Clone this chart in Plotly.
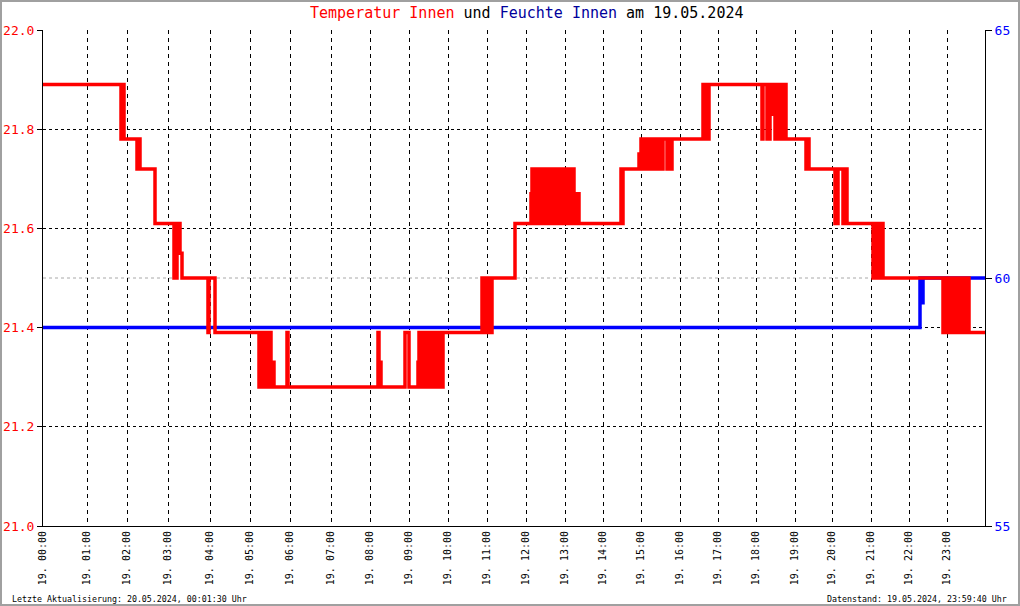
import plotly.graph_objects as go

# ---------------- data ----------------
# x axis is the sample index of the day's readings (ticks at the first sample of each hour)
hour_index = [0, 44, 84, 125, 167, 207, 247, 288, 327, 366, 405, 444,
              483, 522, 560, 598, 637, 675, 713, 752, 789, 828, 866, 904]
hour_labels = ["19. %02d:00" % h for h in range(24)]
n_samples = 942

# temperature readings (sample index, degC) - step changes
temp_steps = [
    (0, 21.89),
    (78, 21.78), (79, 21.89), (81, 21.78),
    (94, 21.72), (95, 21.78), (97, 21.72),
    (112, 21.61),
    (131, 21.50), (132, 21.61), (133, 21.50), (134, 21.61), (137, 21.55), (139, 21.50),
    (165, 21.39), (166, 21.50), (172, 21.39),
    (216, 21.28), (217, 21.39), (218, 21.28), (219, 21.39), (220, 21.28), (221, 21.39),
    (222, 21.28), (223, 21.39), (224, 21.28), (225, 21.39), (226, 21.28), (227, 21.39),
    (228, 21.28), (229, 21.33), (231, 21.28),
    (244, 21.39), (245, 21.28),
    (335, 21.39), (336, 21.33), (338, 21.28),
    (362, 21.39), (366, 21.28),
    (375, 21.33), (376, 21.39), (377, 21.28), (378, 21.39), (379, 21.28), (380, 21.39),
    (381, 21.28), (382, 21.39), (383, 21.28), (384, 21.39), (385, 21.28), (386, 21.39),
    (387, 21.28), (388, 21.39), (389, 21.28), (390, 21.39), (391, 21.28), (392, 21.39),
    (393, 21.33), (394, 21.39), (395, 21.28), (396, 21.39), (397, 21.33), (398, 21.39),
    (399, 21.28), (400, 21.39),
    (439, 21.50), (440, 21.39), (441, 21.50), (442, 21.39), (443, 21.50), (444, 21.39),
    (447, 21.50), (448, 21.39), (449, 21.50),
    (472, 21.61),
    (488, 21.67), (489, 21.72), (490, 21.61), (491, 21.72), (492, 21.61), (493, 21.72),
    (494, 21.61), (495, 21.72), (496, 21.61), (497, 21.72), (498, 21.61), (499, 21.72),
    (500, 21.61), (501, 21.72), (502, 21.61), (503, 21.72), (504, 21.61), (505, 21.72),
    (506, 21.61), (507, 21.72), (508, 21.61), (509, 21.72), (510, 21.61), (511, 21.72),
    (512, 21.61),
    (515, 21.72), (516, 21.61), (517, 21.72), (518, 21.61), (519, 21.72), (520, 21.61),
    (521, 21.72), (522, 21.61), (523, 21.72), (524, 21.67), (525, 21.61), (526, 21.72),
    (527, 21.61), (528, 21.72), (529, 21.61), (530, 21.72), (531, 21.67), (532, 21.61),
    (533, 21.67), (534, 21.61), (535, 21.67), (536, 21.61),
    (578, 21.72), (579, 21.61), (580, 21.72),
    (596, 21.75), (597, 21.72), (598, 21.78), (599, 21.72), (600, 21.78), (601, 21.72),
    (602, 21.78), (603, 21.72), (604, 21.78), (605, 21.72), (606, 21.78), (607, 21.72),
    (608, 21.78), (609, 21.72), (610, 21.78), (611, 21.72), (612, 21.78), (613, 21.75),
    (614, 21.78), (615, 21.72), (616, 21.78), (617, 21.72), (618, 21.78), (619, 21.72),
    (620, 21.78), (624, 21.72), (625, 21.78), (626, 21.72), (627, 21.78), (628, 21.72),
    (629, 21.78),
    (660, 21.89), (661, 21.78), (662, 21.89), (663, 21.78), (664, 21.89), (665, 21.78),
    (666, 21.89),
    (719, 21.78), (720, 21.89), (724, 21.78), (725, 21.89), (726, 21.78), (727, 21.89),
    (730, 21.83), (731, 21.89), (732, 21.78), (733, 21.89), (735, 21.78), (736, 21.89),
    (739, 21.78), (740, 21.89), (741, 21.78), (742, 21.89), (743, 21.78),
    (763, 21.72), (764, 21.78), (766, 21.72),
    (792, 21.61), (793, 21.72), (794, 21.61), (795, 21.72), (800, 21.61), (801, 21.72),
    (802, 21.61), (803, 21.72), (804, 21.61),
    (830, 21.50), (831, 21.61), (832, 21.50), (833, 21.61), (834, 21.50), (835, 21.61),
    (836, 21.50), (837, 21.61), (838, 21.50), (839, 21.61), (840, 21.50),
    (900, 21.39), (901, 21.50), (902, 21.39), (903, 21.50), (904, 21.39), (905, 21.50),
    (906, 21.39), (907, 21.50), (908, 21.39), (909, 21.50), (910, 21.39), (911, 21.50),
    (912, 21.39), (913, 21.50), (914, 21.39), (915, 21.50), (916, 21.39), (917, 21.50),
    (918, 21.39), (919, 21.50), (920, 21.39), (921, 21.50), (922, 21.39), (923, 21.50),
    (924, 21.39), (925, 21.50), (926, 21.39), (927, 21.39),
    (942, 21.39),
]
temp_idx = [p[0] for p in temp_steps]
temp_val = [p[1] for p in temp_steps]

# humidity readings (sample index, %)
hum_idx = [0, 877, 878, 880, 942]
hum_val = [59.0, 60.0, 59.5, 60.0, 60.0]

temp_ticks = [21.0, 21.2, 21.4, 21.6, 21.8, 22.0]
hum_ticks = [55, 60, 65]

title_html = ("<span style='color:#ff0000'>Temperatur Innen</span> und "
              "<span style='color:#00009c'>Feuchte Innen</span> am 19.05.2024")
footer_left = "Letzte Aktualisierung: 20.05.2024, 00:01:30 Uhr"
footer_right = "Datenstand: 19.05.2024, 23:59:40 Uhr"

MONO = "DejaVu Sans Mono"

# ---------------- figure ----------------
fig = go.Figure()
fig.add_trace(go.Scatter(x=hum_idx, y=hum_val, yaxis="y", mode="lines",
                         line=dict(color="#0000ff", width=3.5, shape="hv"),
                         hoverinfo="skip", showlegend=False))
fig.add_trace(go.Scatter(x=temp_idx, y=temp_val, yaxis="y2", mode="lines",
                         line=dict(color="#ff0000", width=3.5, shape="hv"),
                         hoverinfo="skip", showlegend=False))

fig.update_layout(
    template="none",
    width=1020, height=606, autosize=False,
    margin=dict(l=43, r=35, t=30, b=80, pad=0),
    paper_bgcolor="white", plot_bgcolor="white",
    font=dict(family=MONO, color="black"),
    showlegend=False,
    xaxis=dict(range=[0, n_samples], tickmode="array", tickvals=hour_index,
               ticktext=hour_labels, tickangle=-90, automargin=False,
               tickfont=dict(family=MONO, size=10, color="black"),
               showgrid=True, gridcolor="black", gridwidth=1, griddash="4px,4px",
               showline=True, linecolor="black", linewidth=1,
               ticks="", zeroline=False, fixedrange=True),
    yaxis=dict(range=[55, 65], side="right", tickmode="array", tickvals=hum_ticks,
               automargin=False,
               tickfont=dict(family=MONO, size=13, color="#0000ff"),
               showgrid=False, showline=True, linecolor="black", linewidth=1,
               ticks="outside", ticklen=6, tickcolor="black",
               zeroline=False, fixedrange=True),
    yaxis2=dict(range=[21.0, 22.0], side="left", overlaying="y", tickmode="array",
                tickvals=temp_ticks, tickformat=".1f", automargin=False,
                tickfont=dict(family=MONO, size=13, color="#ff0000"),
                showgrid=True, gridcolor="black", gridwidth=1, griddash="3px,3px",
                showline=True, linecolor="black", linewidth=1,
                ticks="outside", ticklen=5, tickcolor="black",
                zeroline=False, fixedrange=True),
)

# humidity grid line at 60 % (light grey dashed)
fig.add_shape(type="line", xref="paper", yref="y", x0=0, x1=1, y0=60, y1=60,
              line=dict(color="#a8a8a8", width=1, dash="3px,3px"), layer="below")

# outer grey frame of the image
fig.add_shape(type="rect", xref="paper", yref="paper",
              x0=-42 / 942, x1=(1019 - 43) / 942, y0=-(605 - 526) / 496, y1=1 + 29 / 496,
              line=dict(color="#a0a0a0", width=2), layer="below")

fig.add_annotation(text=title_html, xref="paper", yref="paper",
                   x=(527 - 43) / 942, y=1 + (30 - 13) / 496,
                   xanchor="center", yanchor="middle", showarrow=False,
                   font=dict(family=MONO, size=15, color="black"))
fig.add_annotation(text=footer_left, xref="paper", yref="paper",
                   x=(10 - 43) / 942, y=-(599 - 526) / 496,
                   xanchor="left", yanchor="middle", showarrow=False,
                   font=dict(family=MONO, size=8.3, color="black"))
fig.add_annotation(text=footer_right, xref="paper", yref="paper",
                   x=(1009 - 43) / 942, y=-(599 - 526) / 496,
                   xanchor="right", yanchor="middle", showarrow=False,
                   font=dict(family=MONO, size=8.3, color="black"))

fig.write_html("out.html", config={"displayModeBar": False, "staticPlot": True},
               post_script="document.body.style.margin='0';")
